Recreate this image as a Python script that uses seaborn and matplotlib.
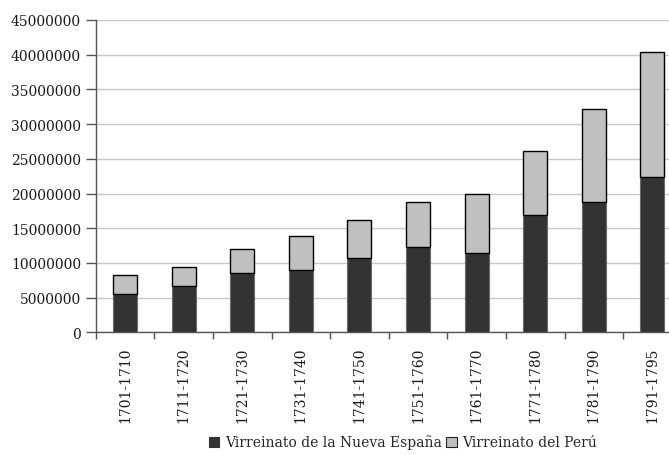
import matplotlib
matplotlib.use("Agg")
import matplotlib.pyplot as plt
from matplotlib.patches import Patch
from matplotlib.ticker import MultipleLocator, FixedLocator
import numpy as np
import pandas as pd
import seaborn as sns

# Decades and the two colonial series (values per decade)
periods = ["1701-1710", "1711-1720", "1721-1730", "1731-1740", "1741-1750",
           "1751-1760", "1761-1770", "1771-1780", "1781-1790", "1791-1795"]
nueva_espana = [5520000, 6720000, 8500000, 9020000, 10660000,
                12290000, 11470000, 16900000, 18780000, 22380000]
peru = [2690000, 2650000, 3500000, 4900000, 5570000,
        6440000, 8410000, 9270000, 13350000, 17970000]

series_names = ["Virreinato de la Nueva España", "Virreinato del Perú"]
dark_color = "#333333"
light_color = "#c0c0c0"

df = pd.DataFrame({"periodo": periods, "ne": nueva_espana, "pe": peru})

sns.set_theme(style="white")
plt.rcParams["font.family"] = ["DejaVu Serif"]
plt.rcParams["font.size"] = 10

fig = plt.figure(figsize=(6.69, 4.56), dpi=100)
ax = fig.add_axes([95.7 / 669, 1 - 333.3 / 456, (681.7 - 95.7) / 669, (333.3 - 21) / 456])

sns.barplot(data=df, x="periodo", y="ne", order=periods, color=dark_color,
            saturation=1, width=0.41, edgecolor="#6a6a6a", linewidth=0.8,
            ax=ax, zorder=3)
sns.barplot(data=df, x="periodo", y="pe", order=periods, color=light_color,
            saturation=1, width=0.41, edgecolor="black", linewidth=1.0,
            bottom=np.array(nueva_espana), ax=ax, zorder=3)

ax.set_xlim(-0.5, len(periods) - 0.5)
ax.set_ylim(0, 45000000)
ax.set_xlabel("")
ax.set_ylabel("")

# y axis
ax.yaxis.set_major_locator(MultipleLocator(5000000))
ax.set_yticklabels([f"{int(v)}" for v in ax.get_yticks()])
ax.tick_params(axis="y", which="major", left=True, length=7, width=1,
               color="#555555", pad=3.5, labelsize=10, labelcolor="#1a1a1a")
ax.grid(axis="y", color="#c8c8c8", linewidth=1, zorder=0)
ax.set_axisbelow(True)
gl = ax.get_ygridlines()
if gl:
    gl[-1].set_color("#f0f0f0")

# x axis: labels at bar centers, tick marks at category boundaries
ax.set_xticks(range(len(periods)))
ax.set_xticklabels(periods, rotation=90)
ax.tick_params(axis="x", which="major", bottom=True, length=0, pad=10,
               labelsize=10, labelcolor="#1a1a1a")
ax.xaxis.set_minor_locator(FixedLocator(np.arange(-0.5, len(periods), 1.0)))
ax.tick_params(axis="x", which="minor", bottom=True, length=5, width=1,
               color="#555555")

for side in ["top", "right"]:
    ax.spines[side].set_visible(False)
for side in ["left", "bottom"]:
    ax.spines[side].set_color("#555555")
    ax.spines[side].set_linewidth(1)

handles = [Patch(facecolor=dark_color, edgecolor=dark_color, linewidth=0.8),
           Patch(facecolor=light_color, edgecolor="#222222", linewidth=0.8)]
fig.legend(handles, series_names, loc="center", bbox_to_anchor=(403 / 669, 1 - 443 / 456),
           ncol=2, frameon=False, handlelength=0.75, handleheight=0.75,
           handletextpad=0.4, columnspacing=0.3, fontsize=10)

fig.savefig("out.png", dpi=100)
